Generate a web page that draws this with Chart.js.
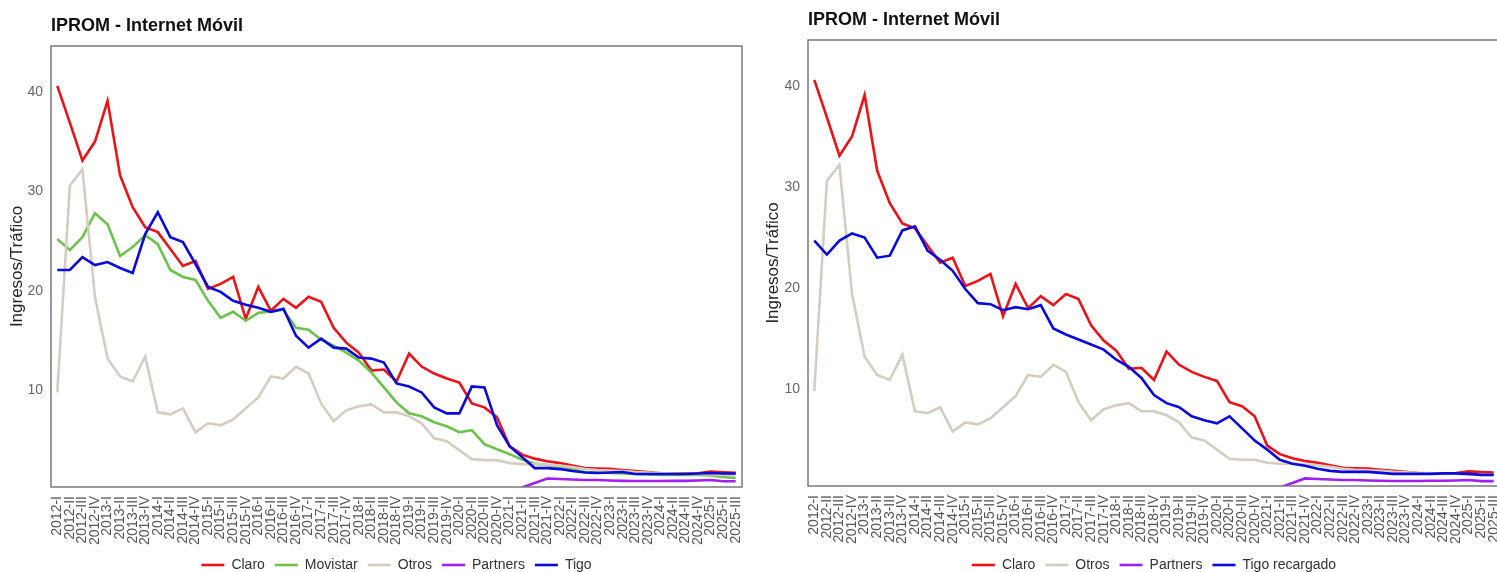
<!DOCTYPE html>
<html><head><meta charset="utf-8">
<script src="https://cdn.jsdelivr.net/npm/chart.js@4/dist/chart.umd.min.js"></script>
<style>
html,body{margin:0;padding:0;background:#fff;overflow:hidden;width:1497px;height:572px;}
#w1{position:absolute;left:0;top:0;width:750px;height:582px;}
#w2{position:absolute;left:750px;top:0;width:750px;height:582px;}
</style></head><body>
<div id="w1"><canvas id="c1" width="750" height="582"></canvas></div>
<div id="w2"><canvas id="c2" width="750" height="582"></canvas></div>
<script>
const categories = ["2012-I","2012-II","2012-III","2012-IV","2013-I","2013-II","2013-III","2013-IV",
"2014-I","2014-II","2014-III","2014-IV","2015-I","2015-II","2015-III","2015-IV",
"2016-I","2016-II","2016-III","2016-IV","2017-I","2017-II","2017-III","2017-IV",
"2018-I","2018-II","2018-III","2018-IV","2019-I","2019-II","2019-III","2019-IV",
"2020-I","2020-II","2020-III","2020-IV","2021-I","2021-II","2021-III","2021-IV",
"2022-I","2022-II","2022-III","2022-IV","2023-I","2023-II","2023-III","2023-IV",
"2024-I","2024-II","2024-III","2024-IV","2025-I","2025-II","2025-III"];

const claro = [40.6,36.9,33.1,35.0,39.1,31.6,28.4,26.4,25.9,24.2,22.5,23.0,20.2,20.7,21.4,17.2,
20.4,18.0,19.2,18.3,19.4,18.9,16.3,14.8,13.8,12.0,12.1,10.9,13.7,12.4,11.7,11.2,
10.8,8.7,8.3,7.3,4.4,3.55,3.15,2.88,2.7,2.45,2.2,2.15,2.12,2.0,1.9,1.8,
1.68,1.64,1.64,1.68,1.85,1.78,1.72];

const movistar = [25.2,24.1,25.4,27.8,26.7,23.5,24.4,25.6,24.7,22.1,21.4,21.1,19.0,17.3,17.9,17.0,
17.8,17.9,18.1,16.3,16.1,15.1,14.5,13.8,13.0,11.8,10.3,8.8,7.7,7.4,6.8,6.4,
5.8,6.0,4.6,4.1,3.6,3.05,2.65,2.5,2.3,2.1,1.8,1.75,1.7,1.65,1.6,1.55,
1.5,1.5,1.5,1.5,1.45,1.3,1.2];

const otros = [9.8,30.6,32.2,19.4,13.2,11.4,10.9,13.4,7.8,7.6,8.2,5.8,6.7,6.5,7.1,8.2,
9.3,11.4,11.2,12.4,11.7,8.7,6.9,8.0,8.4,8.6,7.8,7.8,7.4,6.7,5.2,4.9,
4.0,3.1,3.0,3.0,2.7,2.6,2.6,2.55,2.45,2.3,2.1,2.0,1.95,1.9,1.8,1.75,
1.7,1.65,1.6,1.6,1.55,1.5,1.5];

const partners = [null,null,null,null,null,null,null,null,null,null,null,null,null,null,null,null,
null,null,null,null,null,null,null,null,null,null,null,null,null,null,null,null,
null,null,null,null,null,0.25,0.7,1.15,1.1,1.05,1.0,1.0,0.95,0.92,0.9,0.9,
0.9,0.92,0.92,0.95,1.0,0.88,0.88];

const tigo = [22.1,22.1,23.4,22.6,22.9,22.3,21.8,25.7,27.9,25.4,24.9,22.7,20.4,19.9,19.0,18.6,
18.3,17.9,18.2,15.5,14.3,15.2,14.3,14.2,13.3,13.2,12.8,10.7,10.4,9.8,8.3,7.7,
7.7,10.4,10.3,6.5,4.4,3.3,2.2,2.2,2.1,1.9,1.75,1.7,1.75,1.8,1.6,1.6,
1.6,1.6,1.6,1.65,1.7,1.65,1.65];

const tigoRecargado = [24.7,23.3,24.7,25.4,25.0,23.0,23.2,25.7,26.1,23.7,22.8,21.7,19.9,18.5,18.4,17.8,
18.1,17.9,18.3,16.0,15.4,14.9,14.4,13.9,12.9,12.2,11.1,9.4,8.6,8.2,7.3,6.9,
6.6,7.3,6.1,4.9,4.0,3.0,2.6,2.4,2.1,1.9,1.8,1.8,1.8,1.7,1.6,1.6,
1.6,1.6,1.65,1.65,1.6,1.5,1.5];

const COLORS = {Claro:'#EC1218', Movistar:'#6CC24A', Otros:'#D5CDBF', Partners:'#A020F0', Tigo:'#0A0ADC', 'Tigo recargado':'#0A0ADC'};
const FONT = "'Liberation Sans', Arial, sans-serif";

const frame = {id:'frame', afterDatasetsDraw(chart){
  const {ctx, chartArea:a} = chart;
  ctx.save(); ctx.strokeStyle='#7a7a7a'; ctx.lineWidth=1.5;
  ctx.strokeRect(a.left, a.top, a.right-a.left, a.bottom-a.top);
  ctx.restore();
}};

function ds(label, data, order){
  return {label, data, borderColor:COLORS[label], backgroundColor:COLORS[label], borderWidth:2.6,
    pointRadius:0, pointHoverRadius:0, tension:0, fill:false, order, spanGaps:false, pointStyle:'line'};
}

function makeChart(id, datasets, o){
  return new Chart(document.getElementById(id), {
    type:'line',
    data:{labels:categories, datasets},
    plugins:[frame],
    options:{
      responsive:false, animation:false, devicePixelRatio:1,
      layout:{padding:{left:0,right:o.rightPad,top:0,bottom:0}},
      plugins:{
        tooltip:{enabled:false},
        title:{display:true, text:'IPROM - Internet Móvil', align:'start', fullSize:false, color:'#111',
          font:{family:FONT, size:18, weight:'bold'}, padding:{top:o.titleTop, bottom:o.titleBottom}},
        legend:{position:'bottom', fullSize:false,
          labels:{usePointStyle:true, pointStyle:'line', pointStyleWidth:23, padding:10, color:'#333',
            font:{family:FONT, size:14}, sort:(a,b)=>a.datasetIndex-b.datasetIndex}}
      },
      scales:{
        x:{type:'category', offset:true, grid:{display:false, drawTicks:false}, border:{display:false},
          ticks:{autoSkip:false, maxRotation:90, minRotation:90, padding:9, color:'#555', font:{family:FONT, size:14}},
          afterFit(s){ s.height = o.xHeight; s.paddingLeft = 0; s.paddingRight = 0; }},
        y:{min:o.yMin, max:o.yMax, grid:{display:false, drawTicks:false}, border:{display:false},
          ticks:{stepSize:10, includeBounds:false, padding:8, color:'#666', font:{family:FONT, size:14}},
          title:{display:true, text:'Ingresos/Tráfico', color:'#222', font:{family:FONT, size:17}, padding:{top:o.yTitlePad, bottom:0}},
          afterFit(s){ s.width = o.yWidth; s.paddingTop = 0; s.paddingBottom = 0; }}
      }
    }
  });
}

makeChart('c1', [ds('Claro',claro,5), ds('Movistar',movistar,4), ds('Otros',otros,3), ds('Partners',partners,2), ds('Tigo',tigo,1)],
  {rightPad:8, titleTop:15, titleBottom:9.4, xHeight:61, yMin:0.3, yMax:44.6, yTitlePad:7, yWidth:51});
makeChart('c2', [ds('Claro',claro,4), ds('Otros',otros,3), ds('Partners',partners,2), ds('Tigo recargado',tigoRecargado,1)],
  {rightPad:0, titleTop:9, titleBottom:9.4, xHeight:62, yMin:0.4, yMax:44.55, yTitlePad:13, yWidth:58});
</script>
</body></html>
